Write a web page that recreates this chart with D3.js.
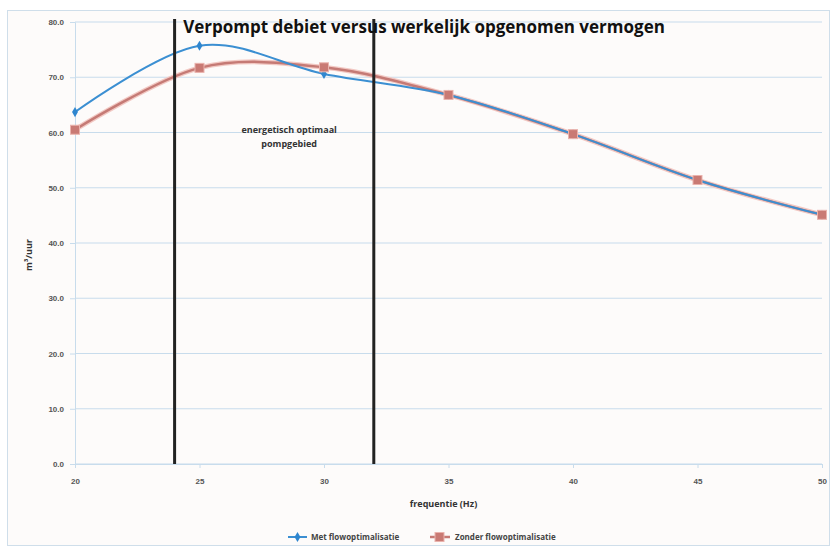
<!DOCTYPE html>
<html>
<head>
<meta charset="utf-8">
<script src="https://cdn.jsdelivr.net/npm/d3@7"></script>
<style>
    body { margin: 0; background: #ffffff; font-family: "Open Sans", "DejaVu Sans", sans-serif; }
</style>
</head>
<body>
<div id="chart"></div>
<script>

// frequency steps and the two measured series
let frequencies = [20, 25, 30, 35, 40, 45, 50];
let withOptimisation = [63.7, 75.7, 70.6, 66.8, 59.7, 51.4, 45.1];
let withoutOptimisation = [60.5, 71.7, 71.8, 66.8, 59.7, 51.4, 45.1];
let yTicks = [0, 10, 20, 30, 40, 50, 60, 70, 80];
let markerLines = [24, 32];
let seriesNames = ['Met flowoptimalisatie', 'Zonder flowoptimalisatie'];

let margin = {top: 22, right: 12, bottom: 85, left: 75};
let width = 834 - margin.left - margin.right;
let height = 549 - margin.top - margin.bottom;

let svg = d3.select('#chart').append('svg')
    .attr('width', 834)
    .attr('height', 549);

// outer chart frame
svg.append('rect')
    .attr('x', 7.5).attr('y', 10.5)
    .attr('width', 822).attr('height', 535)
    .attr('fill', '#fdfbfa')
    .attr('stroke', '#cfdeea');

let g = svg.append('g')
    .attr('transform', `translate(${margin.left}, ${margin.top})`);

let x = d3.scaleLinear().domain([20, 50]).range([0, width]);
let y = d3.scaleLinear().domain([0, 80]).range([height, 0]);

// gridlines
g.selectAll('.grid')
    .data(yTicks)
    .enter()
    .append('line')
    .attr('x1', 0).attr('x2', width)
    .attr('y1', d => y(d)).attr('y2', d => y(d))
    .attr('stroke', '#c8dcec')
    .attr('stroke-width', 1.2);

// y axis
let yAxis = g.append('g')
    .call(d3.axisLeft(y).tickValues(yTicks).tickFormat(d3.format('.1f')).tickSize(5).tickPadding(6));
yAxis.select('.domain').attr('stroke', '#c8dcec');
yAxis.selectAll('line').attr('stroke', '#c8dcec');
yAxis.selectAll('text').style('font-size', '8px').style('font-weight', 700).style('fill', '#555');

// x axis
let xAxis = g.append('g')
    .attr('transform', `translate(0, ${height})`)
    .call(d3.axisBottom(x).tickValues(frequencies).tickSize(4).tickPadding(10));
xAxis.select('.domain').attr('stroke', '#c8dcec');
xAxis.selectAll('line').attr('stroke', '#c8dcec');
xAxis.selectAll('text').style('font-size', '8px').style('font-weight', 700).style('fill', '#555');

// axis titles
g.append('text')
    .attr('x', width / 2 - 5)
    .attr('y', height + 43)
    .attr('text-anchor', 'middle')
    .style('font-size', '9px')
    .style('font-weight', 700)
    .style('fill', '#333')
    .text('frequentie (Hz)');

g.append('text')
    .attr('transform', `translate(-43, ${y(40) + 12}) rotate(-90)`)
    .attr('text-anchor', 'middle')
    .style('font-size', '9px')
    .style('font-weight', 700)
    .style('fill', '#333')
    .text('m³/uur');

// smoothed lines
let line = d3.line()
    .x((d, i) => x(frequencies[i]))
    .y(d => y(d))
    .curve(d3.curveCardinal.tension(0));

g.append('path')
    .datum(withoutOptimisation)
    .attr('d', line)
    .attr('fill', 'none')
    .attr('stroke', '#f2c9c4')
    .attr('stroke-width', 5);

g.append('path')
    .datum(withoutOptimisation)
    .attr('d', line)
    .attr('fill', 'none')
    .attr('stroke', '#c57a75')
    .attr('stroke-width', 2.5);

g.append('path')
    .datum(withOptimisation)
    .attr('d', line)
    .attr('fill', 'none')
    .attr('stroke', '#3b8fd2')
    .attr('stroke-width', 2);

// markers
g.selectAll('.dia')
    .data(withOptimisation)
    .enter()
    .append('path')
    .attr('d', d3.symbol().type(d3.symbolDiamond).size(30))
    .attr('transform', (d, i) => `translate(${x(frequencies[i])}, ${y(d)})`)
    .attr('fill', '#2f86cf');

g.selectAll('.sq')
    .data(withoutOptimisation)
    .enter()
    .append('rect')
    .attr('x', (d, i) => x(frequencies[i]) - 4.5)
    .attr('y', d => y(d) - 4.5)
    .attr('width', 9).attr('height', 9)
    .attr('fill', '#c97a74')
    .attr('stroke', '#eab3ad');

// vertical boundary lines of the pump region
g.selectAll('.bound')
    .data(markerLines)
    .enter()
    .append('line')
    .attr('x1', d => x(d)).attr('x2', d => x(d))
    .attr('y1', y(80) - 3).attr('y2', height)
    .attr('stroke', '#222')
    .attr('stroke-width', 3);

// annotation
let note = g.append('text')
    .attr('text-anchor', 'middle')
    .style('font-size', '9px')
    .style('font-weight', 700)
    .style('fill', '#333');
note.append('tspan').attr('x', x(28.6)).attr('y', y(60)).text('energetisch optimaal');
note.append('tspan').attr('x', x(28.6)).attr('y', y(60) + 14).text('pompgebied');

// title
svg.append('text')
    .attr('x', 424)
    .attr('y', 33)
    .attr('text-anchor', 'middle')
    .style('font-size', '17px')
    .style('font-weight', 700)
    .style('fill', '#111')
    .text('Verpompt debiet versus werkelijk opgenomen vermogen');

// legend
let legend = svg.append('g').attr('transform', 'translate(0, 537)');
legend.append('line').attr('x1', 288).attr('x2', 307).attr('y1', 0).attr('y2', 0)
    .attr('stroke', '#3b8fd2').attr('stroke-width', 2);
legend.append('path').attr('d', d3.symbol().type(d3.symbolDiamond).size(30))
    .attr('transform', 'translate(297.5, 0)').attr('fill', '#2f86cf');
legend.append('text').attr('x', 311).attr('y', 3)
    .style('font-size', '8px').style('font-weight', 700).style('fill', '#444')
    .text(seriesNames[0]);

legend.append('line').attr('x1', 430).attr('x2', 450).attr('y1', 0).attr('y2', 0)
    .attr('stroke', '#c57a75').attr('stroke-width', 2.5);
legend.append('rect').attr('x', 435).attr('y', -4.5).attr('width', 9).attr('height', 9)
    .attr('fill', '#c97a74').attr('stroke', '#eab3ad');
legend.append('text').attr('x', 455).attr('y', 3)
    .style('font-size', '8px').style('font-weight', 700).style('fill', '#444')
    .text(seriesNames[1]);

</script>
</body>
</html>
